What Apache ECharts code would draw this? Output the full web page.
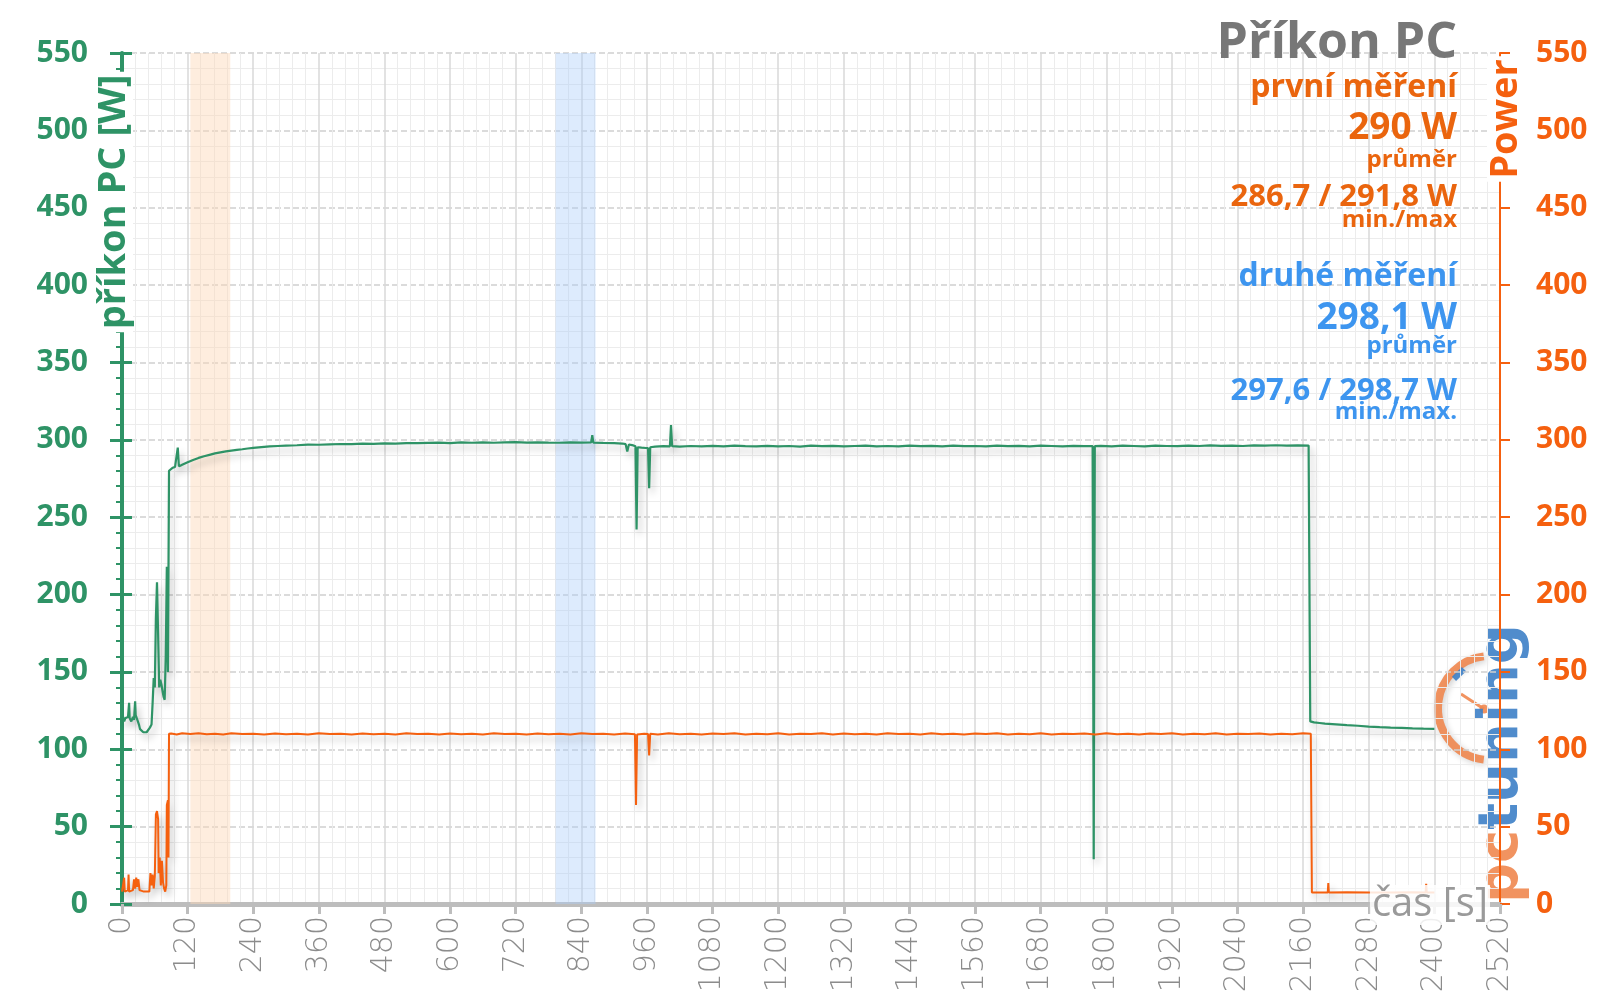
<!DOCTYPE html>
<html>
<head>
<meta charset="utf-8">
<script src="https://cdn.jsdelivr.net/npm/echarts@6/dist/echarts.min.js"></script>
<style>
html,body{margin:0;padding:0;background:#fff;}
#chart{width:1600px;height:999px;}
</style>
</head>
<body>
<div id="chart"></div>
<script>
// ---- data (time [s], power [W]) ----
const pcPower = [
[0,119],[2,121],[4,118],[6,120],[8,119],[11,121],[13,130],[14,120],[17,118],[20,121],[22,119],[24,131],[25,122],[27,121],[29,118],[31,116],[33,113],[36,112],[39,111],[42,112],[45,111],[48,112],[51,114],[54,116],[56,130],[58,146],[60,140],[62,185],[64,208],[66,175],[68,140],[70,145],[72,142],[74,138],[76,134],[78,132],[80,160],[82,218],[84,150],[86,280],
[89,281],[93,282],[97,282.5],[100,283],[102,295],[104,283],[108,283.5],[114,284.5],[120,285.5],[130,287],[140,288.3],[150,289.4],[160,290.3],[170,291.2],[180,291.9],[190,292.5],[200,293],[210,293.5],[220,293.9],[230,294.4],[240,294.8],[255,295.3],[270,295.7],[285,296],[300,296.3],[320,296.5],[340,296.9],[360,296.8],[380,297.1],[400,297.3],[420,297.2],[440,297.5],[460,297.4],[480,297.7],[500,297.6],[520,297.9],[540,297.8],[560,298],[580,298.2],[600,297.9],[620,298.3],[640,298.1],[660,298.4],[680,298.1],[700,298.3],[720,298.5],[740,298.2],[760,298.4],[780,298.2],[800,298.1],[820,298.4],[840,298.2],[858,298.3],[860,303],[862,298.2],[880,298],[900,297.8],[915,297.6],[921,297.2],[924,292.5],[927,297],[935,296.4],[939,295.8],[941,242],[943,295.2],[950,294.9],[958,294.7],[962,294.6],[964,268.7],[966,295.2],[975,295.6],[990,295.9],[1002,295.8],[1004,309.6],[1006,295.9],
[1020,295.6],[1040,296],[1060,295.7],[1080,296.1],[1100,295.8],[1120,296.2],[1140,295.9],[1160,295.7],[1180,296.1],[1200,295.8],[1220,296],[1240,295.6],[1260,296.2],[1280,295.9],[1300,296.1],[1320,295.7],[1340,296],[1360,296.3],[1380,295.8],[1400,296],[1420,295.7],[1440,296.2],[1460,295.9],[1480,296.1],[1500,295.8],[1520,296.3],[1540,295.9],[1560,296],[1580,295.7],[1600,296.2],[1620,295.9],[1640,296.1],[1660,295.8],[1680,296.2],[1700,296],[1720,295.7],[1740,296.1],[1760,295.9],[1775,296],[1777,29],[1779,295.9],[1790,296.1],[1810,295.8],[1830,296.2],[1850,296],[1870,295.8],[1890,296.3],[1910,296],[1930,295.9],[1950,296.2],[1970,296],[1990,296.4],[2010,296.1],[2030,296.3],[2050,296],[2070,296.4],[2090,296.2],[2110,296.5],[2130,296.2],[2150,296.4],[2170,296.3],
[2173,118],[2180,117.4],[2190,117],[2200,116.6],[2220,116.1],[2240,115.6],[2260,115.2],[2280,114.7],[2300,114.3],[2320,114],[2340,113.8],[2360,113.5],[2380,113.3],[2400,113.2]
];
const gpuPower = [
[0,8],[2,8],[4,17],[5,8],[8,8],[11,9],[12,19],[13,8],[16,8],[20,9],[22,16],[24,10],[26,17],[28,11],[30,16],[32,9],[34,8],[40,8],[46,8],[50,8],[52,20],[54,12],[56,19],[58,10],[60,18],[62,58],[64,60],[66,55],[67,20],[69,30],[71,12],[73,28],[75,14],[77,10],[79,8],[81,12],[82,64],[84,67],[85,30],[86,110],
[90,110.2],[100,109.6],[110,110.3],[125,109.8],[140,110.4],[155,109.7],[170,110.1],[185,109.6],[200,110.3],[220,109.8],[240,110],[260,109.5],[280,110.2],[300,109.7],[320,110.1],[340,109.6],[360,110.3],[380,109.8],[400,110],[420,109.5],[440,110.2],[460,109.7],[480,110.1],[500,109.6],[520,110.3],[540,109.8],[560,110],[580,109.5],[600,110.2],[620,109.7],[640,110.1],[660,109.6],[680,110.3],[700,109.8],[720,110],[740,109.5],[760,110.2],[780,109.7],[800,110.1],[820,109.6],[840,110.3],[860,109.8],[880,110],[900,109.5],[920,110.2],[938,109.7],[940,64],[942,109.5],[955,110.1],[962,109.8],[964,96],[966,110],[980,109.6],
[1000,110.3],[1020,109.7],[1040,110.1],[1060,109.5],[1080,110.2],[1100,109.8],[1120,110.4],[1140,109.6],[1160,110],[1180,109.7],[1200,110.3],[1220,109.5],[1240,110.1],[1260,109.8],[1280,110.4],[1300,109.6],[1320,110.2],[1340,109.7],[1360,110.1],[1380,109.5],[1400,110.3],[1420,109.8],[1440,110],[1460,109.6],[1480,110.4],[1500,109.7],[1520,110.1],[1540,109.5],[1560,110.2],[1580,109.8],[1600,110.3],[1620,109.6],[1640,110],[1660,109.7],[1680,110.4],[1700,109.5],[1720,110.1],[1740,109.8],[1760,110.2],[1780,109.6],[1800,110.3],[1820,109.7],[1840,110],[1860,109.5],[1880,110.2],[1900,109.8],[1920,110.4],[1940,109.6],[1960,110.1],[1980,109.7],[2000,110.3],[2020,109.5],[2040,110],[2060,109.8],[2080,110.2],[2100,109.6],[2120,110.1],[2140,109.7],[2160,110.3],[2174,110],
[2176,7.5],[2190,7.5],[2205,7.5],[2206,13.6],[2207,7.5],[2240,7.6],[2280,7.5],[2320,7.5],[2360,7.6],[2384,7.5],[2385,13],[2386,7.5],[2400,7.5]
];
const bandOrange = [125, 198];
const bandBlue = [793, 866];
const xTicks = {min: 0, max: 2520, step: 120};
const yTicks = {min: 0, max: 550, step: 50};
const infoLines = [
  ['Příkon PC', 'title'],
  ['první měření', 'oh'],
  ['290 W', 'ob'],
  ['průměr', 'os'],
  ['286,7 / 291,8 W', 'om'],
  ['min./max', 'os'],
  ['druhé měření', 'bh'],
  ['298,1 W', 'bb'],
  ['průměr', 'bs'],
  ['297,6 / 298,7 W', 'bm'],
  ['min./max.', 'bs']
];

// ---- styles ----
const G = '#2e9366', O = '#f5600f', OT = '#ea650e', B = '#3d95ef', GREY = '#9a9a9a';
const FF = '"Open Sans", "Noto Sans", sans-serif';
const infoY = [44, 88, 128, 160, 197, 220, 277, 318, 346, 391, 412];
const infoStyle = {
  title: {size: 50, color: '#777777'},
  oh: {size: 32, color: OT}, ob: {size: 37, color: OT}, os: {size: 24, color: OT}, om: {size: 31, color: OT},
  bh: {size: 32, color: B}, bb: {size: 37, color: B}, bs: {size: 24, color: B}, bm: {size: 31, color: B}
};

const chart = echarts.init(document.getElementById('chart'));

const graphics = infoLines.map((l, i) => ({
  type: 'text', z: 100, x: 1457, y: infoY[i],
  style: {text: l[0], align: 'right', verticalAlign: 'middle', fill: infoStyle[l[1]].color,
    font: 'bold ' + infoStyle[l[1]].size + 'px ' + FF}
}));
const LC = '#f0874f', LB = '#3d7fc6';
graphics.push(
  {type: 'text', z: 100, x: 114, y: 202, rotation: Math.PI / 2,
   style: {text: 'příkon PC [W]', align: 'center', verticalAlign: 'middle', fill: G,
     font: 'bold 38px ' + FF, backgroundColor: '#ffffff', padding: [0, 3]}},
  {type: 'text', z: 100, x: 1506, y: 119, rotation: Math.PI / 2,
   style: {text: 'Power', align: 'center', verticalAlign: 'middle', fill: O,
     font: 'bold 38px ' + FF, backgroundColor: '#ffffff', padding: [0, 3]}},
  {type: 'text', z: 100, x: 1490, y: 905,
   style: {text: 'čas [s]', align: 'right', verticalAlign: 'middle', fill: GREY,
     font: '40px ' + FF, backgroundColor: 'rgba(255,255,255,0.85)', padding: [0, 2]}},
  // logo
  {type: 'group', z: 90, children: [
    {type: 'arc', shape: {cx: 1490, cy: 708, r: 52, startAngle: Math.PI / 2 + 0.12, endAngle: Math.PI * 1.5 - 0.12, clockwise: true},
     style: {stroke: LC, lineWidth: 8, fill: null, opacity: 0.9, shadowBlur: 6, shadowColor: 'rgba(0,0,0,0.2)', shadowOffsetX: 2, shadowOffsetY: 2}},
    {type: 'rect', x: 1459, y: 674, rotation: -0.8, shape: {x: -3, y: -7, width: 6, height: 14},
     style: {fill: LB, opacity: 0.9}},
    {type: 'line', shape: {x1: 1461, y1: 694, x2: 1484, y2: 709},
     style: {stroke: LC, lineWidth: 3, opacity: 0.9}},
    {type: 'circle', shape: {cx: 1484, cy: 709, r: 4.5}, style: {fill: LC, opacity: 0.9}},
    {type: 'text', x: 1502, y: 903, rotation: Math.PI / 2,
     style: {text: '{a|pc}{b|tuning}', align: 'left', verticalAlign: 'middle',
       font: 'bold 56px "DejaVu Sans"', opacity: 0.9,
       shadowBlur: 6, shadowColor: 'rgba(0,0,0,0.25)', shadowOffsetX: 2, shadowOffsetY: 2,
       rich: {a: {fill: LC, font: 'bold 56px "DejaVu Sans"'}, b: {fill: LB, font: 'bold 56px "DejaVu Sans"'}}}}
  ]}
);

const lineShadow = {shadowColor: 'rgba(0,0,0,0.25)', shadowBlur: 7, shadowOffsetX: 3, shadowOffsetY: 5};

chart.setOption({
  animation: false,
  backgroundColor: '#ffffff',
  grid: {left: 122, right: 100, top: 53, bottom: 95, containLabel: false},
  xAxis: {
    type: 'value', min: xTicks.min, max: xTicks.max, interval: xTicks.step,
    axisLine: {show: true, lineStyle: {color: '#bdbdbd', width: 5}},
    axisTick: {show: true, length: 10, lineStyle: {color: '#bdbdbd', width: 3}},
    minorTick: {show: false, splitNumber: 5},
    axisLabel: {rotate: 90, color: '#8c8c8c', fontSize: 30, fontFamily: '"DejaVu Sans"', fontWeight: 200, margin: 12,
      showMaxLabel: true, showMinLabel: true, formatter: v => String(v)},
    splitLine: {show: true, lineStyle: {color: '#d9d9d9', width: 1.5}},
    minorSplitLine: {show: true, lineStyle: {color: '#ececec', width: 1}}
  },
  yAxis: [
    {type: 'value', position: 'left', min: yTicks.min, max: yTicks.max, interval: yTicks.step,
     axisLine: {show: true, lineStyle: {color: G, width: 4}},
     axisTick: {show: true, length: 12, lineStyle: {color: G, width: 3}},
     minorTick: {show: true, splitNumber: 5, length: 6, lineStyle: {color: G, width: 2}},
     axisLabel: {color: G, fontFamily: FF, fontWeight: 'bold', fontSize: 30, margin: 34},
     splitLine: {show: true, lineStyle: {color: '#cfcfcf', type: 'dashed', width: 1.5}},
     minorSplitLine: {show: true, lineStyle: {color: '#ececec', width: 1}}},
    {type: 'value', position: 'right', min: yTicks.min, max: yTicks.max, interval: yTicks.step,
     axisLine: {show: true, lineStyle: {color: O, width: 2}},
     axisTick: {show: true, length: 10, lineStyle: {color: O, width: 2}},
     axisLabel: {color: O, fontFamily: FF, fontWeight: 'bold', fontSize: 30, margin: 36},
     splitLine: {show: false}},
    {type: 'value', position: 'left', min: yTicks.min, max: yTicks.max, interval: yTicks.step,
     axisLine: {show: false},
     axisTick: {show: true, inside: true, length: 10, lineStyle: {color: G, width: 3}},
     axisLabel: {show: false}, splitLine: {show: false}}
  ],
  series: [
    {type: 'line', name: 'příkon PC', data: pcPower, yAxisIndex: 0, showSymbol: false, symbol: 'none',
     lineStyle: Object.assign({color: G, width: 2.2}, lineShadow), itemStyle: {color: G},
     markArea: {silent: true, data: [
       [{xAxis: bandOrange[0], itemStyle: {color: 'rgba(252,214,182,0.45)'}}, {xAxis: bandOrange[1]}],
       [{xAxis: bandBlue[0], itemStyle: {color: 'rgba(170,204,250,0.4)'}}, {xAxis: bandBlue[1]}]
     ]}},
    {type: 'line', name: 'Power', data: gpuPower, yAxisIndex: 1, showSymbol: false, symbol: 'none',
     lineStyle: Object.assign({color: O, width: 2}, lineShadow), itemStyle: {color: O}}
  ],
  graphic: graphics
});
</script>
</body>
</html>
